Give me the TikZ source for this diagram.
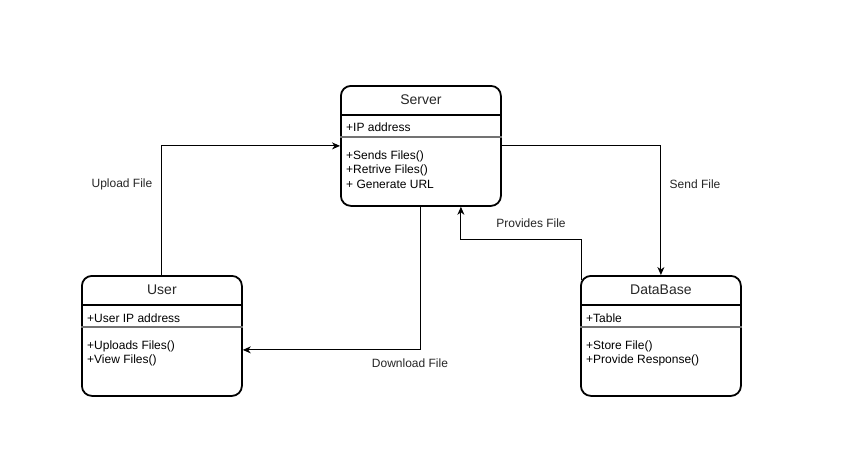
\documentclass[tikz,border=0pt]{standalone}
\usepackage{fontspec}
\setmainfont{Liberation Sans}
\usetikzlibrary{calc,arrows.meta}
\begin{document}
\begin{tikzpicture}[x=1pt,y=-1pt,
  classbox/.style={draw=black,line width=1.8pt,rounded corners=10pt,
    minimum width=160pt,minimum height=120pt,anchor=north west,inner sep=0pt},
  title/.style={font=\fontsize{14}{16}\selectfont,text=black!85,anchor=center},
  member/.style={font=\fontsize{12}{14}\selectfont,anchor=west,inner sep=0pt},
  headline/.style={line width=1.1pt,draw=black},
  sepline/.style={line width=1.8pt,draw=black!55},
  conn/.style={line width=1pt,draw=black},
  arr/.style={conn,-{Stealth[length=8pt,width=7pt,inset=2.5pt]}},
  lbl/.style={font=\fontsize{12}{14}\selectfont,text=black!85,anchor=center}]
\useasboundingbox[fill=white] (0,0) rectangle (850,455);

% class boxes
\node[classbox] (server) at (340,85) {};
\node[classbox] (user) at (81,275) {};
\node[classbox] (db) at (580,275) {};

% compartments: title, attribute, methods
\foreach \b/\t in {server/Server,user/User,db/DataBase}{
  \node[title] (\b-title) at ($(\b.north)+(0,15)$) {\t};
  \draw[headline] ($(\b.north west)+(0,30)$) -- ($(\b.north east)+(0,30)$);
  \draw[sepline] ($(\b.north west)+(0,52)$) -- ($(\b.north east)+(0,52)$);
}

% Server members
\node[member] (s-a1) at ($(server.north west)+(6,42)$) {+IP address};
\node[member] (s-m1) at ($(server.north west)+(6,71)$) {+Sends Files()};
\node[member] (s-m2) at ($(server.north west)+(6,85)$) {+Retrive Files()};
\node[member] (s-m3) at ($(server.north west)+(6,99)$) {+ Generate URL};

% User members
\node[member] (u-a1) at ($(user.north west)+(6,43)$) {+User IP address};
\node[member] (u-m1) at ($(user.north west)+(6,71)$) {+Uploads Files()};
\node[member] (u-m2) at ($(user.north west)+(6,85)$) {+View Files()};

% DataBase members
\node[member] (d-a1) at ($(db.north west)+(6,43)$) {+Table};
\node[member] (d-m1) at ($(db.north west)+(6,71)$) {+Store File()};
\node[member] (d-m2) at ($(db.north west)+(6,85)$) {+Provide Response()};

% connectors
\draw[arr] (user.north) |- (server.west);
\draw[arr] (server.east) -| (db.north);
\draw[arr] (server.south) |- ($(user.east)+(0,14)$);
\coordinate (pf-end) at ($(server.south)+(40,0)$);
\coordinate (pf-start) at ($(db.north west)+(1,5)$);
\draw[arr] (pf-start) |- ($(pf-end)+(0,33)$) -- (pf-end);

% connector labels
\node[lbl] (l-up) at (122,184) {Upload File};
\node[lbl] (l-send) at (695,184) {Send File};
\node[lbl] (l-prov) at (531,223) {Provides File};
\node[lbl] (l-down) at (410,363) {Download File};
\end{tikzpicture}
\end{document}
